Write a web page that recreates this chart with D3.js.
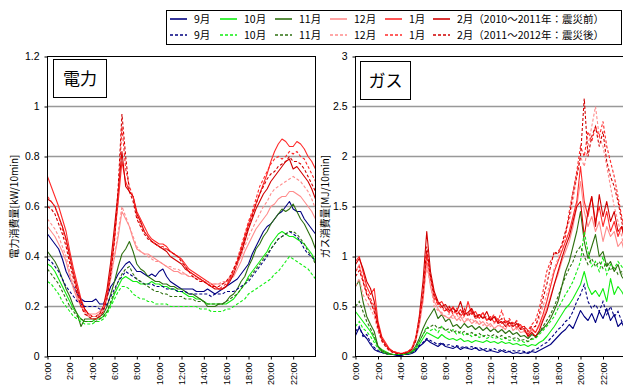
<!DOCTYPE html>
<html><head><meta charset="utf-8">
<script src="https://cdn.jsdelivr.net/npm/d3@7"></script>
<style>
body{margin:0;background:#fff}
svg{display:block}
text{font-family:"Noto Sans CJK JP","Noto Sans",sans-serif;fill:#000}
</style>
</head><body>
<svg id="c" width="623" height="388"></svg>
<script>
// ---- data ----
const minutes = [0,20,40,60,80,100,120,140,160,180,200,220,240,260,280,300,320,340,360,380,400,420,440,460,480,500,520,540,560,580,600,620,640,660,680,700,720,740,760,780,800,820,840,860,880,900,920,940,960,980,1000,1020,1040,1060,1080,1100,1120,1140,1160,1180,1200,1220,1240,1260,1280,1300,1320,1340,1360,1380,1400,1420,1440];
const months = ["9月","10月","11月","12月","1月","2月"];
const periodLabels = ["（2010〜2011年：震災前）","（2011〜2012年：震災後）"];
const xTickMinutes = [0,120,240,360,480,600,720,840,960,1080,1200,1320];
const xTickLabels = ["0:00","2:00","4:00","6:00","8:00","10:00","12:00","14:00","16:00","18:00","20:00","22:00"];
const elecTicks = [0,0.2,0.4,0.6,0.8,1,1.2];
const gasTicks = [0,0.5,1,1.5,2,2.5,3];

// 電力 (kW/10min), 震災前
const elecSepBefore = [.49,.47,.45,.43,.39,.34,.31,.28,.25,.23,.22,.22,.22,.23,.21,.21,.24,.28,.30,.33,.35,.37,.38,.36,.34,.34,.33,.32,.33,.32,.34,.35,.32,.30,.29,.28,.27,.27,.27,.27,.26,.26,.26,.27,.26,.25,.26,.27,.28,.29,.30,.31,.33,.35,.37,.41,.44,.47,.50,.52,.53,.55,.57,.58,.60,.62,.59,.58,.58,.55,.53,.51,.49];
const elecOctBefore = [.37,.36,.34,.31,.28,.25,.22,.19,.17,.15,.14,.14,.14,.15,.15,.16,.18,.21,.25,.28,.31,.32,.31,.30,.30,.29,.29,.29,.30,.29,.29,.28,.28,.27,.27,.26,.26,.25,.24,.24,.23,.23,.22,.21,.21,.21,.21,.21,.21,.22,.23,.25,.27,.29,.32,.34,.36,.38,.40,.42,.45,.47,.49,.50,.49,.48,.48,.47,.46,.45,.43,.41,.38];
const elecNovBefore = [.42,.40,.38,.35,.31,.27,.24,.20,.17,.12,.15,.15,.15,.15,.16,.17,.20,.25,.30,.36,.41,.43,.46,.42,.37,.35,.34,.32,.31,.30,.30,.29,.29,.28,.28,.27,.27,.26,.25,.25,.24,.23,.22,.20,.20,.20,.21,.21,.22,.24,.25,.27,.30,.32,.36,.39,.43,.45,.48,.50,.53,.55,.57,.59,.58,.59,.61,.58,.55,.53,.50,.47,.43];
const elecDecBefore = [.52,.50,.48,.45,.42,.38,.32,.27,.23,.20,.18,.17,.17,.17,.18,.20,.25,.32,.40,.48,.58,.55,.52,.47,.43,.42,.41,.41,.40,.39,.38,.37,.36,.35,.34,.34,.33,.33,.32,.32,.31,.31,.30,.30,.29,.29,.29,.29,.30,.31,.32,.35,.38,.42,.45,.48,.51,.53,.55,.57,.60,.61,.63,.64,.64,.66,.66,.65,.64,.62,.60,.58,.55];
const elecJanBefore = [.72,.68,.64,.60,.55,.50,.42,.35,.29,.23,.19,.17,.16,.16,.17,.19,.25,.35,.48,.62,.78,.70,.66,.64,.58,.55,.52,.49,.47,.46,.45,.45,.44,.42,.41,.40,.39,.37,.35,.34,.33,.32,.31,.30,.29,.28,.27,.27,.28,.31,.34,.38,.43,.48,.53,.57,.61,.65,.69,.73,.78,.82,.85,.87,.86,.84,.84,.86,.85,.83,.80,.78,.75];
const elecFebBefore = [.63,.62,.60,.56,.52,.47,.40,.33,.27,.22,.19,.17,.16,.16,.17,.20,.27,.38,.52,.66,.82,.68,.66,.64,.57,.54,.50,.48,.46,.45,.44,.43,.42,.40,.39,.38,.37,.35,.34,.33,.32,.31,.30,.29,.28,.27,.27,.27,.28,.30,.33,.37,.41,.46,.51,.55,.59,.62,.65,.67,.70,.72,.74,.76,.78,.79,.75,.76,.74,.72,.70,.67,.63];
// 電力 (kW/10min), 震災後
const elecSepAfter = [.39,.38,.36,.34,.31,.28,.26,.24,.22,.21,.20,.20,.20,.20,.19,.19,.21,.24,.27,.30,.32,.34,.33,.32,.31,.30,.29,.29,.29,.28,.28,.28,.27,.27,.27,.26,.26,.26,.25,.25,.25,.25,.25,.25,.24,.25,.25,.25,.26,.26,.26,.27,.28,.29,.30,.32,.34,.36,.38,.40,.43,.45,.47,.48,.49,.50,.49,.48,.46,.43,.41,.40,.38];
const elecOctAfter = [.30,.29,.27,.25,.22,.20,.18,.16,.15,.14,.13,.13,.13,.14,.14,.15,.17,.20,.23,.26,.28,.28,.27,.25,.24,.23,.23,.22,.22,.21,.21,.21,.21,.20,.20,.20,.20,.20,.20,.20,.20,.19,.19,.19,.18,.18,.18,.18,.19,.19,.20,.21,.22,.23,.25,.26,.27,.28,.29,.30,.31,.33,.34,.36,.38,.40,.39,.38,.37,.36,.35,.33,.31];
const elecNovAfter = [.35,.33,.31,.29,.26,.23,.20,.18,.16,.15,.14,.14,.14,.14,.15,.16,.18,.22,.26,.30,.33,.35,.36,.33,.31,.30,.29,.28,.27,.26,.26,.25,.25,.24,.24,.24,.24,.23,.23,.23,.22,.22,.22,.21,.21,.21,.21,.21,.22,.23,.24,.25,.27,.29,.31,.33,.35,.37,.39,.41,.43,.45,.47,.48,.49,.50,.50,.49,.47,.45,.42,.40,.37];
const elecDecAfter = [.55,.53,.51,.48,.44,.40,.34,.28,.24,.20,.18,.17,.16,.16,.17,.19,.24,.31,.40,.50,.60,.56,.52,.48,.44,.42,.41,.40,.39,.38,.38,.37,.36,.36,.35,.35,.34,.33,.32,.32,.31,.30,.30,.30,.29,.29,.29,.30,.30,.32,.34,.37,.40,.44,.48,.51,.54,.57,.60,.62,.65,.67,.68,.69,.70,.71,.72,.71,.70,.68,.66,.63,.59];
const elecJanAfter = [.64,.62,.60,.56,.51,.46,.39,.32,.26,.21,.18,.16,.15,.15,.16,.18,.24,.34,.47,.64,.92,.75,.68,.64,.56,.53,.50,.48,.46,.45,.44,.44,.43,.42,.41,.40,.39,.36,.34,.33,.32,.31,.30,.29,.28,.28,.27,.28,.29,.31,.35,.39,.44,.49,.54,.58,.63,.68,.71,.74,.77,.79,.80,.79,.80,.82,.81,.82,.80,.79,.76,.73,.70];
const elecFebAfter = [.60,.59,.57,.53,.49,.44,.37,.31,.25,.20,.17,.16,.15,.15,.16,.18,.23,.33,.46,.68,.97,.80,.66,.62,.55,.52,.49,.47,.46,.45,.44,.43,.43,.42,.41,.40,.38,.36,.34,.32,.31,.30,.30,.29,.28,.28,.28,.29,.30,.32,.35,.38,.42,.47,.52,.56,.61,.65,.68,.71,.73,.74,.76,.77,.78,.80,.78,.78,.77,.75,.72,.69,.66];

// ガス (MJ/10min), 震災前
const gasSepBefore = [.21,.29,.22,.18,.12,.07,.05,.04,.03,.02,.02,.01,.01,.02,.02,.03,.05,.10,.13,.17,.14,.12,.10,.13,.10,.09,.08,.10,.07,.09,.08,.07,.09,.06,.07,.05,.06,.05,.04,.06,.04,.05,.03,.04,.03,.04,.03,.05,.04,.06,.08,.10,.12,.16,.20,.24,.27,.32,.28,.37,.46,.40,.36,.43,.34,.45,.38,.48,.36,.42,.30,.34,.26];
const gasOctBefore = [.45,.40,.35,.30,.25,.18,.10,.07,.05,.03,.02,.02,.02,.02,.03,.04,.07,.12,.18,.24,.22,.20,.18,.22,.19,.17,.18,.16,.18,.15,.16,.14,.16,.15,.14,.16,.14,.15,.13,.15,.13,.14,.12,.13,.11,.12,.10,.12,.11,.14,.16,.20,.25,.30,.36,.42,.48,.52,.58,.65,.72,.85,.70,.62,.66,.60,.68,.55,.78,.62,.70,.65,.58];
const gasNovBefore = [.70,.76,.55,.40,.32,.25,.10,.06,.04,.03,.02,.02,.02,.03,.04,.05,.10,.18,.28,.36,.42,.48,.38,.42,.35,.38,.30,.32,.28,.33,.29,.31,.27,.30,.26,.29,.25,.28,.24,.27,.23,.26,.22,.24,.20,.21,.18,.22,.20,.24,.28,.32,.38,.46,.55,.70,.85,.95,1.10,1.25,1.45,1.15,.98,1.10,1.22,1.00,1.05,.90,.95,.85,.92,.80,.75];
const gasDecBefore = [.85,.92,.75,.62,.55,.45,.30,.18,.12,.07,.05,.04,.03,.04,.05,.07,.15,.30,.55,.95,.70,.55,.48,.42,.40,.38,.42,.36,.40,.34,.38,.33,.36,.32,.35,.30,.33,.28,.31,.30,.27,.35,.26,.29,.24,.25,.22,.26,.24,.30,.38,.48,.60,.72,.82,.95,1.05,1.15,1.30,1.50,1.75,1.45,1.30,1.40,1.25,1.35,1.15,1.30,1.20,1.25,1.10,1.15,1.00];
const gasJanBefore = [.95,1.00,.85,.70,.62,.68,.35,.20,.14,.08,.05,.04,.03,.03,.05,.08,.18,.35,.60,1.05,.80,.62,.52,.55,.48,.44,.50,.42,.47,.40,.55,.42,.45,.38,.44,.36,.40,.34,.38,.33,.36,.30,.34,.29,.32,.26,.22,.28,.24,.32,.42,.55,.70,.85,.95,1.05,1.15,1.25,1.40,1.55,1.90,1.55,1.40,1.60,1.35,1.50,1.30,1.45,1.25,1.35,1.20,1.30,1.10];
const gasFebBefore = [.92,.98,.88,.75,.68,.55,.32,.18,.12,.07,.05,.03,.03,.03,.04,.07,.16,.40,.75,1.25,.85,.65,.55,.50,.52,.46,.48,.45,.55,.42,.44,.48,.40,.42,.38,.45,.36,.40,.33,.35,.30,.34,.30,.33,.27,.28,.20,.24,.20,.26,.36,.45,.58,.72,.85,.98,1.10,1.20,1.35,1.50,1.55,1.20,1.45,1.60,1.30,1.62,1.40,1.55,1.35,1.45,1.25,1.30,1.15];
// ガス (MJ/10min), 震災後
const gasSepAfter = [.25,.30,.20,.22,.14,.09,.06,.04,.03,.02,.02,.02,.01,.02,.03,.04,.06,.11,.14,.18,.16,.14,.12,.14,.11,.12,.10,.11,.09,.10,.09,.10,.08,.09,.07,.08,.07,.08,.06,.07,.06,.05,.06,.05,.06,.05,.04,.06,.07,.09,.12,.14,.18,.22,.27,.30,.35,.38,.45,.55,.62,.72,.55,.48,.52,.45,.55,.42,.50,.40,.45,.35,.32];
const gasOctAfter = [.30,.35,.28,.25,.20,.14,.08,.05,.03,.02,.02,.02,.02,.02,.03,.05,.08,.15,.22,.30,.26,.28,.24,.30,.26,.24,.27,.22,.25,.21,.23,.20,.22,.19,.21,.18,.20,.18,.19,.17,.19,.16,.17,.15,.16,.14,.15,.17,.18,.22,.26,.30,.35,.40,.48,.55,.62,.68,.75,.85,.95,1.25,1.05,.90,.95,.85,1.00,.82,.92,.88,.95,.90,.85];
const gasNovAfter = [.50,.55,.45,.35,.28,.20,.10,.05,.03,.02,.02,.02,.02,.02,.03,.04,.08,.15,.22,.28,.30,.32,.28,.30,.26,.28,.24,.26,.23,.25,.22,.24,.21,.23,.20,.22,.20,.22,.19,.21,.18,.20,.18,.19,.16,.17,.15,.18,.19,.24,.30,.36,.42,.50,.60,.70,.80,.88,.95,1.05,1.10,1.00,.92,.98,.90,.95,.88,.94,.86,.90,.82,.85,.78];
const gasDecAfter = [.70,.78,.62,.55,.48,.40,.25,.15,.10,.06,.04,.03,.03,.04,.05,.08,.16,.32,.58,.90,.72,.50,.46,.44,.40,.43,.37,.42,.36,.40,.35,.38,.33,.36,.31,.34,.30,.33,.36,.28,.32,.30,.34,.27,.30,.26,.24,.28,.30,.38,.50,.62,.75,.88,.98,1.10,1.25,1.35,1.55,1.80,2.00,1.90,2.10,2.30,2.50,2.20,2.10,1.90,1.70,1.50,1.35,1.20,1.00];
const gasJanAfter = [.85,.90,.78,.65,.58,.50,.30,.18,.12,.07,.05,.04,.03,.04,.05,.08,.18,.38,.65,1.00,.78,.58,.52,.48,.45,.50,.42,.48,.40,.45,.42,.46,.38,.40,.44,.36,.38,.42,.35,.46,.34,.38,.33,.36,.30,.30,.26,.32,.36,.48,.65,.85,.95,1.02,1.05,1.10,1.20,1.45,1.65,1.85,2.10,2.00,2.25,2.15,2.30,2.20,2.35,2.10,1.95,1.80,1.60,1.40,1.20];
const gasFebAfter = [.80,.86,.75,.62,.55,.45,.28,.16,.10,.06,.04,.03,.03,.03,.05,.07,.15,.35,.62,1.10,.80,.60,.55,.50,.46,.50,.44,.46,.42,.48,.40,.45,.38,.42,.38,.40,.36,.40,.34,.38,.33,.36,.32,.35,.28,.30,.25,.30,.30,.42,.58,.72,.90,1.05,1.02,1.12,1.25,1.40,1.63,1.80,2.00,2.58,2.00,2.20,2.30,2.10,2.25,1.95,1.80,1.70,1.55,1.35,1.15];

// ---- styling ----
const colors = ["#000080","#11ee11","#2e7010","#ff8c8c","#ff2a2a","#d00000"];
const svg = d3.select("#c");

const elecBefore = [elecSepBefore,elecOctBefore,elecNovBefore,elecDecBefore,elecJanBefore,elecFebBefore];
const elecAfter  = [elecSepAfter,elecOctAfter,elecNovAfter,elecDecAfter,elecJanAfter,elecFebAfter];
const gasBefore  = [gasSepBefore,gasOctBefore,gasNovBefore,gasDecBefore,gasJanBefore,gasFebBefore];
const gasAfter   = [gasSepAfter,gasOctAfter,gasNovAfter,gasDecAfter,gasJanAfter,gasFebAfter];

function panel(opt){
  const x = d3.scaleLinear().domain([0,1440]).range([opt.x0, opt.x1]);
  const y = d3.scaleLinear().domain([0, opt.ymax]).range([356.5, 56.5]);
  const g = svg.append("g");
  g.selectAll(".grid").data(opt.ticks.filter(t=>t>0 && t<opt.ymax)).join("line")
    .attr("x1",opt.x0).attr("x2",opt.x1).attr("y1",d=>y(d)).attr("y2",d=>y(d))
    .attr("stroke","#999").attr("stroke-width",1.4);
  const cid = "clip"+opt.id;
  svg.append("clipPath").attr("id",cid).append("rect")
    .attr("x",opt.x0).attr("y",56.5).attr("width",opt.x1-opt.x0).attr("height",300);
  const lg = g.append("g").attr("clip-path",`url(#${cid})`);
  const line = d3.line().x((d,i)=>x(minutes[i])).y(d=>y(d));
  opt.before.forEach((s,k)=>{
    lg.append("path").attr("d",line(s)).attr("fill","none")
      .attr("stroke",colors[k]).attr("stroke-width",1.1).attr("stroke-linejoin","round");
  });
  opt.after.forEach((s,k)=>{
    lg.append("path").attr("d",line(s)).attr("fill","none")
      .attr("stroke",colors[k]).attr("stroke-width",1.1).attr("stroke-dasharray","3,2");
  });
  g.append("rect").attr("x",opt.x0).attr("y",56.5).attr("width",opt.x1-opt.x0).attr("height",300)
    .attr("fill","none").attr("stroke","#000").attr("stroke-width",1);
  const ya = g.append("g").attr("transform",`translate(${opt.x0},0)`)
    .call(d3.axisLeft(y).tickValues(opt.ticks).tickSize(3).tickPadding(5).tickFormat(d=>String(d)));
  ya.select(".domain").remove();
  ya.selectAll("text").style("font-family","'Liberation Sans',Arial,sans-serif").attr("font-size",10.5);
  const xa = g.append("g").attr("transform","translate(0,356.5)")
    .call(d3.axisBottom(x).tickValues(xTickMinutes).tickSize(3).tickFormat((d,i)=>xTickLabels[i]));
  xa.select(".domain").remove();
  xa.selectAll("text").attr("transform","rotate(-90)").attr("x",-6).attr("y",0).attr("dy","0.35em")
    .attr("text-anchor","end").style("font-family","'Liberation Sans',Arial,sans-serif").attr("font-size",9);
  svg.append("text").attr("transform",`translate(${opt.titleX},206.5) rotate(-90)`)
    .attr("text-anchor","middle").attr("dy","0.35em").attr("font-size",10).text(opt.ytitle);
  g.append("rect").attr("x",opt.boxX).attr("y",opt.boxY).attr("width",opt.boxW).attr("height",38)
    .attr("fill","#fff").attr("stroke","#000").attr("stroke-width",1);
  g.append("text").attr("x",opt.boxX+opt.boxW/2).attr("y",opt.boxY+19).attr("dy","0.36em")
    .attr("text-anchor","middle").attr("font-size",17).text(opt.label);
}

panel({id:"e",x0:47.5,x1:315.5,ymax:1.2,ticks:elecTicks,before:elecBefore,after:elecAfter,
  titleX:14,ytitle:"電力消費量[kW/10min]",boxX:53.5,boxY:59.5,boxW:53,label:"電力"});
panel({id:"g",x0:355.5,x1:625.5,ymax:3,ticks:gasTicks,before:gasBefore,after:gasAfter,
  titleX:325,ytitle:"ガス消費量[MJ/10min]",boxX:360.5,boxY:61.5,boxW:50,label:"ガス"});

// legend
const legX = [170,220,275,330,385,433];
const leg = svg.append("g");
leg.append("rect").attr("x",166.5).attr("y",10.5).attr("width",455).attr("height",34)
  .attr("fill","#fff").attr("stroke","#000").attr("stroke-width",1);
[19,35].forEach((yy,row)=>{
  months.forEach((m,k)=>{
    leg.append("line").attr("x1",legX[k]).attr("x2",legX[k]+17).attr("y1",yy).attr("y2",yy)
      .attr("stroke",colors[k]).attr("stroke-width",1.6)
      .attr("stroke-dasharray",row===1?"3,2":null);
    leg.append("text").attr("x",legX[k]+24).attr("y",yy).attr("dy","0.36em").attr("font-size",10.5)
      .text(k===5 ? m+periodLabels[row] : m);
  });
});
</script>
</body></html>
